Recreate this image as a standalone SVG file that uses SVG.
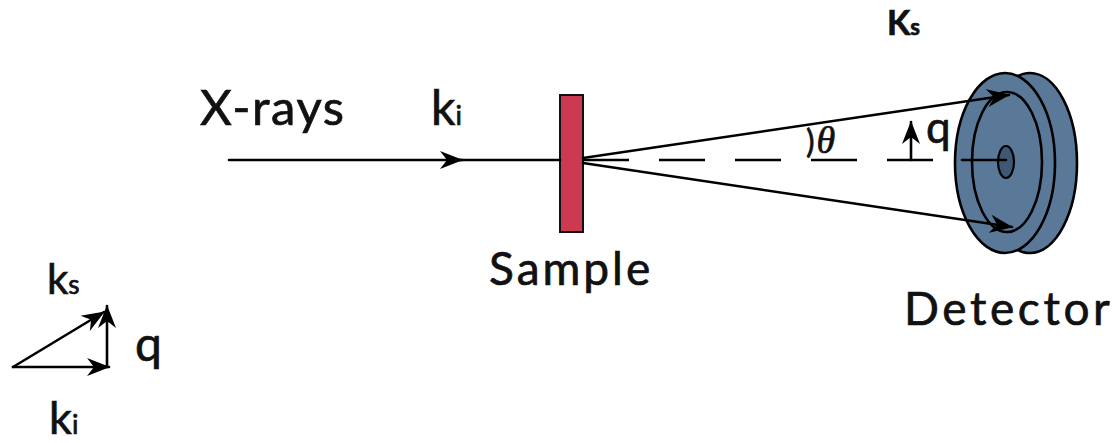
<svg xmlns="http://www.w3.org/2000/svg" width="1116" height="443" viewBox="0 0 1116 443">
  <style>
    .lbl { font-family: "Lato", "Open Sans", "Liberation Sans", sans-serif; fill: #111; stroke: #111; stroke-width: 0.7; }
    .ray { stroke: #000; stroke-width: 2.6; fill: none; stroke-linecap: round; }
    .dash { stroke: #000; stroke-width: 2.6; fill: none; stroke-dasharray: 46 30; }
    .disk { fill: #5a7898; stroke: #000; stroke-width: 2.6; }
  </style>
  <defs>
    <marker id="barb" markerUnits="userSpaceOnUse" markerWidth="24" markerHeight="20" viewBox="0 0 24 20" refX="22" refY="10" orient="auto">
      <path d="M0,1 L23,10 L0,19 L7,10 Z" fill="#000"/>
    </marker>
  </defs>

  <rect width="1116" height="443" fill="#fff"/>

  <!-- sample -->
  <g id="sample">
    <rect x="560" y="95" width="23" height="137" fill="#cc3a52" stroke="#111" stroke-width="2"/>
    <text class="lbl" x="489" y="285" font-size="46" letter-spacing="3">Sample</text>
  </g>

  <!-- detector -->
  <g id="detector">
    <ellipse class="disk" cx="1030" cy="163" rx="47" ry="90"/>
    <ellipse class="disk" cx="1005" cy="163" rx="50" ry="90"/>
    <ellipse cx="1007" cy="162" rx="35" ry="70" fill="none" stroke="#000" stroke-width="2.6"/>
    <ellipse cx="1006" cy="162" rx="8" ry="16" fill="#3f5874" stroke="#000" stroke-width="2.2"/>
    <text class="lbl" x="904" y="325" font-size="46" letter-spacing="3.6">Detector</text>
  </g>

  <!-- labels -->
  <g id="xrays">
    <text class="lbl" x="200" y="125" font-size="49" letter-spacing="1.6">X-rays</text>
  </g>
  <g id="ki-label">
    <text class="lbl" x="431" y="125" font-size="48">k<tspan font-size="27">i</tspan></text>
  </g>
  <g id="ks-label">
    <text class="lbl" x="887" y="35" font-size="34" font-weight="700">K<tspan font-size="22">s</tspan></text>
  </g>
  <g id="theta-label">
    <text class="lbl" x="806" y="153" font-size="32">)<tspan font-style="italic" font-family="Liberation Serif, serif" font-size="38" dx="2">θ</tspan></text>
  </g>
  <g id="q-label">
    <text class="lbl" x="926" y="143" font-size="44">q</text>
  </g>

  <!-- vector triangle -->
  <g id="vector-triangle">
    <text class="lbl" x="47" y="294" font-size="42">k<tspan font-size="26">s</tspan></text>
    <text class="lbl" x="135" y="361" font-size="48">q</text>
    <text class="lbl" x="49" y="434" font-size="45">k<tspan font-size="27">i</tspan></text>
  </g>

  <!-- rays and vectors -->
  <g id="connectors">
    <line class="ray" x1="229" y1="160" x2="462" y2="160" marker-end="url(#barb)"/>
    <line class="ray" x1="458" y1="160" x2="560" y2="160"/>
    <line class="dash" x1="583" y1="160" x2="935" y2="160"/>
    <line class="ray" x1="962" y1="160" x2="1006" y2="160"/>
    <line class="ray" x1="583" y1="158" x2="1009" y2="95" marker-end="url(#barb)"/>
    <line class="ray" x1="583" y1="163" x2="1012" y2="227" marker-end="url(#barb)"/>
    <line class="ray" x1="911" y1="160" x2="911" y2="122" marker-end="url(#barb)"/>

    <line class="ray" x1="13" y1="367" x2="109" y2="367" marker-end="url(#barb)"/>
    <line class="ray" x1="107" y1="367" x2="107" y2="306" marker-end="url(#barb)"/>
    <line class="ray" x1="13" y1="367" x2="104" y2="312" marker-end="url(#barb)"/>
  </g>
</svg>
